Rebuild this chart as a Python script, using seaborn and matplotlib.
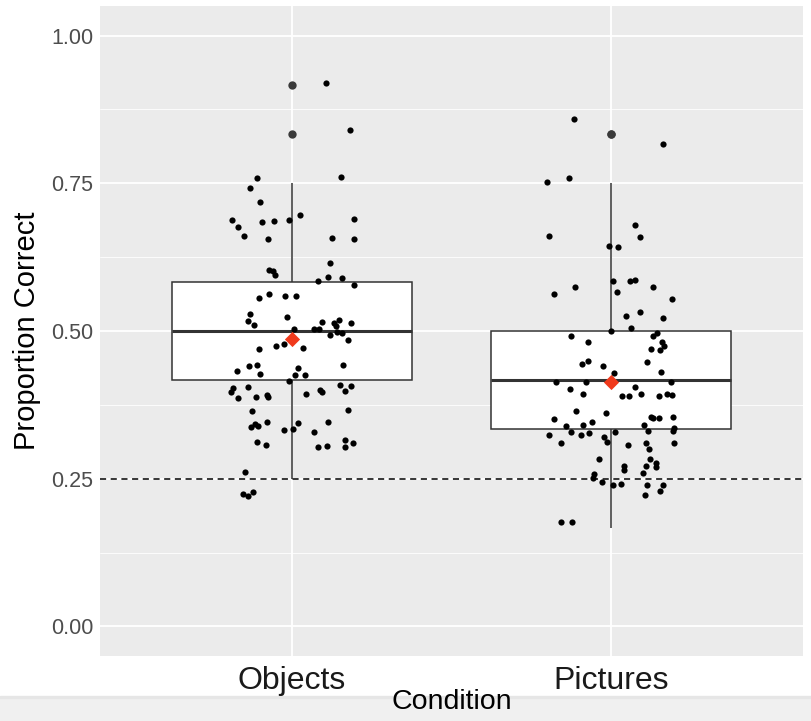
import numpy as np
import pandas as pd
import matplotlib.pyplot as plt
import seaborn as sns
from matplotlib.patches import Rectangle
from matplotlib.ticker import FixedLocator

conditions = ['Objects', 'Pictures']

# jittered points: proportion correct + horizontal jitter (category units)
objects_y = [0.920, 0.841, 0.759, 0.761, 0.742, 0.719, 0.697, 0.688, 0.684, 0.686,
             0.688, 0.690, 0.676, 0.661, 0.656, 0.657, 0.655, 0.615, 0.604, 0.601,
             0.594, 0.592, 0.589, 0.585, 0.578, 0.556, 0.562, 0.559, 0.560, 0.529,
             0.523, 0.517, 0.510, 0.516, 0.514, 0.518, 0.514, 0.503, 0.503, 0.503,
             0.508, 0.494, 0.498, 0.496, 0.485, 0.474, 0.478, 0.472, 0.470, 0.443,
             0.433, 0.440, 0.443, 0.428, 0.437, 0.425, 0.425, 0.416, 0.403, 0.396,
             0.406, 0.386, 0.389, 0.391, 0.388, 0.394, 0.401, 0.396, 0.408, 0.398,
             0.407, 0.364, 0.367, 0.338, 0.343, 0.339, 0.346, 0.333, 0.335, 0.344,
             0.329, 0.346, 0.312, 0.307, 0.304, 0.305, 0.316, 0.310, 0.304, 0.262,
             0.225, 0.220, 0.228]
objects_dx = [0.108, 0.181, -0.110, 0.153, -0.131, -0.099, 0.026, -0.187, -0.092, -0.054,
              -0.007, 0.196, -0.168, -0.149, -0.074, 0.127, 0.196, 0.120, -0.071, -0.060,
              -0.052, 0.113, 0.158, 0.083, 0.196, -0.103, -0.072, -0.020, 0.012, -0.131,
              -0.016, -0.137, -0.118, 0.095, 0.131, 0.148, 0.187, 0.070, 0.085, 0.008,
              0.138, 0.120, 0.143, 0.156, 0.177, -0.049, -0.024, 0.034, -0.103, 0.160,
              -0.172, -0.133, -0.109, -0.099, 0.021, 0.010, 0.040, -0.008, -0.183, -0.191,
              -0.138, -0.167, -0.113, -0.076, -0.073, 0.046, 0.090, 0.096, 0.150, 0.168,
              0.185, -0.123, 0.176, -0.128, -0.116, -0.104, -0.078, -0.023, 0.005, 0.020,
              0.070, 0.115, -0.110, -0.081, 0.083, 0.110, 0.167, 0.191, 0.168, -0.145,
              -0.151, -0.138, -0.120]

pictures_y = [0.859, 0.816, 0.752, 0.759, 0.679, 0.661, 0.659, 0.644, 0.642, 0.585,
              0.585, 0.587, 0.574, 0.575, 0.562, 0.566, 0.555, 0.532, 0.525, 0.522,
              0.505, 0.492, 0.500, 0.481, 0.491, 0.496, 0.481, 0.475, 0.470, 0.468,
              0.444, 0.450, 0.440, 0.448, 0.429, 0.430, 0.414, 0.414, 0.414, 0.402,
              0.394, 0.406, 0.390, 0.390, 0.394, 0.390, 0.393, 0.391, 0.364, 0.361,
              0.351, 0.355, 0.352, 0.352, 0.354, 0.339, 0.341, 0.346, 0.341, 0.336,
              0.331, 0.324, 0.329, 0.324, 0.327, 0.329, 0.330, 0.320, 0.313, 0.310,
              0.307, 0.311, 0.301, 0.310, 0.283, 0.283, 0.271, 0.264, 0.271, 0.276,
              0.270, 0.258, 0.251, 0.259, 0.245, 0.239, 0.241, 0.239, 0.240, 0.230,
              0.223, 0.176, 0.176]
pictures_dx = [-0.116, 0.163, -0.200, -0.133, 0.074, -0.196, 0.090, -0.008, 0.020, 0.005,
               0.059, 0.075, 0.132, -0.113, -0.180, 0.017, 0.190, 0.090, 0.045, 0.163,
               0.062, -0.125, 0.000, -0.073, 0.132, 0.143, 0.158, 0.166, 0.125, 0.153,
               -0.092, -0.074, -0.026, 0.112, 0.009, 0.155, -0.172, -0.079, 0.187, -0.128,
               -0.090, 0.073, 0.034, 0.054, 0.093, 0.148, 0.174, 0.190, -0.109, -0.016,
               -0.180, 0.123, 0.131, 0.148, 0.193, -0.143, -0.088, -0.060, 0.103, 0.197,
               0.192, -0.195, -0.125, -0.094, -0.071, 0.013, 0.116, -0.022, -0.013, -0.157,
               0.051, 0.108, 0.119, 0.197, -0.038, 0.120, 0.041, 0.041, 0.109, 0.140,
               0.140, -0.055, -0.058, 0.098, -0.030, 0.005, 0.031, 0.113, 0.163, 0.153,
               0.106, -0.156, -0.123]

chance = 0.25
n_items = 12
box_whis = {'Objects': 1.45, 'Pictures': 1.5}

df = pd.DataFrame({
    'Condition': ['Objects'] * len(objects_y) + ['Pictures'] * len(pictures_y),
    'y': objects_y + pictures_y,
    'dx': objects_dx + pictures_dx,
})
# un-jittered score (proportion of 12 items)
df['score'] = (df['y'] * n_items).round() / n_items
df['xpos'] = df['Condition'].map({c: i for i, c in enumerate(conditions)}) + df['dx']
means = df.groupby('Condition')['score'].mean().reindex(conditions)

sns.set_theme(style='darkgrid', rc={'axes.facecolor': '#EBEBEB', 'grid.color': 'white'})
plt.rcParams['font.family'] = ['Liberation Sans', 'DejaVu Sans']

fig = plt.figure(figsize=(8.11, 7.21), dpi=100)
# light strip at the bottom of the screenshot
fig.patches.append(Rectangle((0, 0), 1, 24 / 721, transform=fig.transFigure,
                             color='#F0F0F0', zorder=-1))
fig.patches.append(Rectangle((0, 23 / 721), 1, 2 / 721, transform=fig.transFigure,
                             color='#E6E6E6', zorder=-1))
ax = fig.add_axes([100 / 811, 65 / 721, 703 / 811, 650 / 721])

for cond in conditions:
    sns.boxplot(data=df[df['Condition'] == cond], x='Condition', y='score', order=conditions,
                whis=box_whis[cond], width=0.75, color='white', linecolor='#333333',
                linewidth=1.1, showcaps=False,
                flierprops=dict(marker='o', markersize=6, markerfacecolor='#3a3a3a',
                                markeredgecolor='none'),
                medianprops=dict(linewidth=2.2, color='#333333'), ax=ax)

sns.scatterplot(data=df, x='xpos', y='y', color='black', s=20, linewidth=0, ax=ax, zorder=4)
sns.scatterplot(x=np.arange(len(conditions)), y=means.values, marker='D', color='#F03A1C',
                s=60, linewidth=0, ax=ax, zorder=5)
ax.axhline(chance, color='black', linestyle=(0, (4, 3)), linewidth=1.1, zorder=3)

ax.set_xlim(-0.6, 1.6)
ax.set_ylim(-0.05, 1.05)
ax.set_xticks(range(len(conditions)))
ax.set_xticklabels(conditions)
ax.set_yticks([0, 0.25, 0.5, 0.75, 1.0])
ax.set_yticklabels(['0.00', '0.25', '0.50', '0.75', '1.00'])
ax.yaxis.set_minor_locator(FixedLocator([0.125, 0.375, 0.625, 0.875]))
ax.grid(which='major', color='white', linewidth=1.3)
ax.grid(which='minor', axis='y', color='white', linewidth=0.6)
ax.set_axisbelow(True)
for s in ax.spines.values():
    s.set_visible(False)

ax.tick_params(axis='both', which='major', length=3, width=0.9, color='#333333')
ax.tick_params(axis='y', which='minor', length=0)
ax.tick_params(axis='y', labelsize=15.5, labelcolor='#4D4D4D', pad=2)
ax.tick_params(axis='x', labelsize=23, labelcolor='#1A1A1A', pad=4)

ax.set_xlabel('Condition', fontsize=20.5, color='black')
ax.xaxis.set_label_coords(0.5, -0.071)
ax.xaxis.label.set_va('center')
ax.set_ylabel('Proportion Correct', fontsize=21, color='black')
ax.yaxis.set_label_coords(-0.104, 0.5)
ax.yaxis.label.set_va('center')

fig.savefig('out.png', dpi=100)
